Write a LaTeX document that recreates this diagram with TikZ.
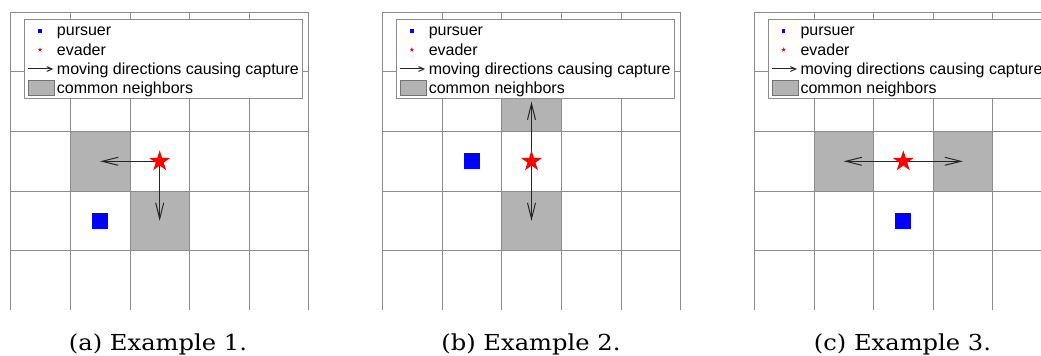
\documentclass[tikz,border=0pt]{standalone}
\usepackage{fontspec}
\setmainfont{DejaVu Serif}[FakeStretch=1.1]
\newfontfamily\legendfont{Liberation Sans}
\usetikzlibrary{arrows.meta, positioning, shapes.geometric}
\definecolor{gridgray}{RGB}{140,140,140}
\definecolor{cellgray}{RGB}{179,179,179}
\definecolor{pursuerblue}{RGB}{0,0,255}
\definecolor{evaderred}{RGB}{255,0,0}
\tikzset{
	gridline/.style={draw=gridgray, line width=0.6pt},
	common/.style={fill=cellgray, draw=black!65, line width=0.6pt},
	pursuer/.style={rectangle, fill=pursuerblue, inner sep=0pt, minimum size=11.8pt},
	evader/.style={star, star points=5, star point ratio=2.618, fill=evaderred, inner sep=0pt, minimum size=16.5pt},
	smallpursuer/.style={pursuer, minimum size=2.6pt},
	smallevader/.style={evader, minimum size=3.6pt},
	capture/.style={-{Straight Barb[length=12pt, width=6pt]}, line width=0.75pt, draw=black!85},
	smallcapture/.style={-{Straight Barb[length=4pt, width=3.6pt]}, line width=0.75pt, draw=black!85},
	legendbox/.style={draw=gridgray, fill=white, line width=0.6pt},
	legendpatch/.style={fill=cellgray, draw=black!55, line width=0.6pt},
	legendtext/.style={anchor=base west, inner sep=0pt, font=\legendfont\fontsize{12}{14}\selectfont},
	caption/.style={anchor=base, inner sep=0pt, font=\fontsize{16.5}{20}\selectfont},
}

\begin{document}
\begin{tikzpicture}[x=0.75pt, y=-0.75pt]
	\useasboundingbox (0,0) rectangle (1041,356);
	\clip (0,0) rectangle (1041,356);
	% shaded common neighbors (cell units)
	\begin{scope}[shift={(10.7,12.3)}, x=44.7pt, y=-44.7pt]
		\draw[common] (1,2) rectangle (2,3);
		\draw[common] (2,3) rectangle (3,4);
	\end{scope}
	\begin{scope}[shift={(382.5,12.3)}, x=44.7pt, y=-44.7pt]
		\draw[common] (2,1) rectangle (3,2);
		\draw[common] (2,3) rectangle (3,4);
	\end{scope}
	\begin{scope}[shift={(754.3,12.3)}, x=44.7pt, y=-44.7pt]
		\draw[common] (1,2) rectangle (2,3);
		\draw[common] (3,2) rectangle (4,3);
	\end{scope}
	% grid and legend of each panel
	\foreach \p/\px in {a/10.7, b/382.5, c/754.3} {
		\begin{scope}[shift={(\px,12.3)}, x=44.7pt, y=-44.7pt]
			\foreach \i in {0,...,5} \draw[gridline] (\i,0) -- (\i,5);
			\foreach \j in {0,...,4} \draw[gridline] (0,\j) -- (5,\j);
		\end{scope}
		\begin{scope}[shift={(\px,12.3)}]
			\draw[legendbox] (13.8,7) rectangle (291.8,86);
			\node[smallpursuer] (lp-\p) at (29.3,18.7) {};
			\node[smallevader] (le-\p) at (29.3,37.4) {};
			\coordinate (la-\p) at (17.6,56.7);
			\coordinate (lb-\p) at (42.6,56.7);
			\draw[smallcapture] (la-\p) -- (lb-\p);
			\draw[legendpatch] (17.6,68.4) rectangle (43.6,82.7);
			\node[legendtext] (tp-\p) at (46,23.7) {pursuer};
			\node[legendtext] (te-\p) at (46,42.9) {evader};
			\node[legendtext] (ta-\p) at (46,62.1) {moving directions causing capture};
			\node[legendtext] (tn-\p) at (46,81.3) {common neighbors};
		\end{scope}
	}
	% example 1
	\begin{scope}[shift={(10.7,12.3)}, x=44.7pt, y=-44.7pt]
		\coordinate (ea) at (2.5,2.5);
		\coordinate (ea-l) at (1.5,2.5);
		\coordinate (ea-d) at (2.5,3.5);
		\draw[capture] (ea) -- (ea-l);
		\draw[capture] (ea) -- (ea-d);
		\node[evader] (eva) at (ea) {};
		\node[pursuer] (pura) at (1.5,3.5) {};
	\end{scope}
	% example 2
	\begin{scope}[shift={(382.5,12.3)}, x=44.7pt, y=-44.7pt]
		\coordinate (eb) at (2.5,2.5);
		\coordinate (eb-u) at (2.5,1.5);
		\coordinate (eb-d) at (2.5,3.5);
		\draw[capture] (eb) -- (eb-u);
		\draw[capture] (eb) -- (eb-d);
		\node[evader] (evb) at (eb) {};
		\node[pursuer] (purb) at (1.5,2.5) {};
	\end{scope}
	% example 3
	\begin{scope}[shift={(754.3,12.3)}, x=44.7pt, y=-44.7pt]
		\coordinate (ec) at (2.5,2.5);
		\coordinate (ec-l) at (1.5,2.5);
		\coordinate (ec-r) at (3.5,2.5);
		\draw[capture] (ec) -- (ec-l);
		\draw[capture] (ec) -- (ec-r);
		\node[evader] (evc) at (ec) {};
		\node[pursuer] (purc) at (2.5,3.5) {};
	\end{scope}
	% captions
	\node[caption] (capa) at (158,350) {(a) Example 1.};
	\node[caption] (capb) at (531,350) {(b) Example 2.};
	\node[caption] (capc) at (902.5,350) {(c) Example 3.};
\end{tikzpicture}
\end{document}
